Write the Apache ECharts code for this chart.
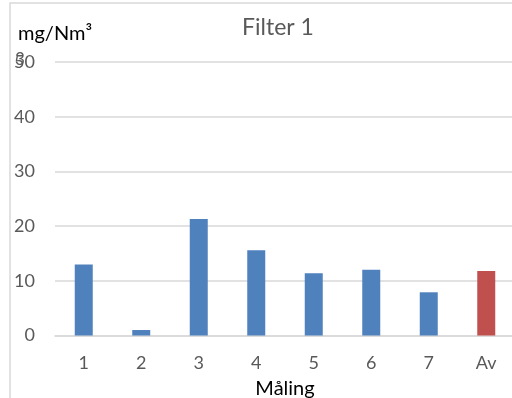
<!DOCTYPE html>
<html><head><meta charset="utf-8">
<script src="https://cdn.jsdelivr.net/npm/echarts@6/dist/echarts.min.js"></script>
<style>html,body{margin:0;padding:0;background:#fff}#c{width:512px;height:398px}</style>
</head><body><div id="c"></div>
<script>
const categories = ['1','2','3','4','5','6','7','Av'];
const values = [13.0, 1.0, 21.3, 15.6, 11.4, 12.0, 7.9, 11.8];
const barColors = ['#4f81bd','#4f81bd','#4f81bd','#4f81bd','#4f81bd','#4f81bd','#4f81bd','#c0504d'];
const yTicks = [0, 10, 20, 30, 40, 50];
const titleText = 'Filter 1';
const yName = 'mg/Nm³';
const xName = 'Måling';

const font = 'Lato, "Open Sans", sans-serif';
const chart = echarts.init(document.getElementById('c'), null, {renderer:'canvas'});
chart.setOption({
  animation: false,
  title: { text: titleText, left: 273, top: 11, textAlign: 'center',
    textStyle: { fontFamily: font, fontSize: 23, fontWeight: 'normal', color: '#595959' } },
  graphic: [
    { type: 'rect', shape: { x: 10, y: 3, width: 520, height: 420 },
      style: { fill: 'none', stroke: '#d9d9d9', lineWidth: 1.5 }, silent: true },
    { type: 'text', left: 18, top: 24, style: { text: yName, fontFamily: font, fontSize: 20, fill: '#000' } },
    { type: 'text', left: 15, top: 51, style: { text: '3', fontFamily: font, fontSize: 17, fill: '#595959' } }
  ],
  grid: { left: 55, right: -3, top: 62, bottom: 62.5, containLabel: false, outerBoundsMode: 'none' },
  xAxis: {
    type: 'category', data: categories,
    name: xName, nameLocation: 'middle', nameGap: 43,
    nameTextStyle: { fontFamily: font, fontSize: 20, color: '#000' },
    axisLine: { show: true, lineStyle: { color: '#d9d9d9', width: 1.5 } },
    axisTick: { show: false },
    axisLabel: { fontFamily: font, fontSize: 18, color: '#595959', margin: 19 }
  },
  yAxis: {
    type: 'value', min: 0, max: 50, interval: 10,
    axisLine: { show: false }, axisTick: { show: false },
    axisLabel: { fontFamily: font, fontSize: 18, color: '#595959', margin: 20,
      formatter: v => yTicks.includes(v) ? String(v) : '' },
    splitLine: { lineStyle: { color: '#d9d9d9', width: 1.5 } }
  },
  series: [{
    type: 'bar', barWidth: 18,
    data: values.map((v, i) => ({ value: v, itemStyle: { color: barColors[i] } }))
  }]
});
</script></body></html>
